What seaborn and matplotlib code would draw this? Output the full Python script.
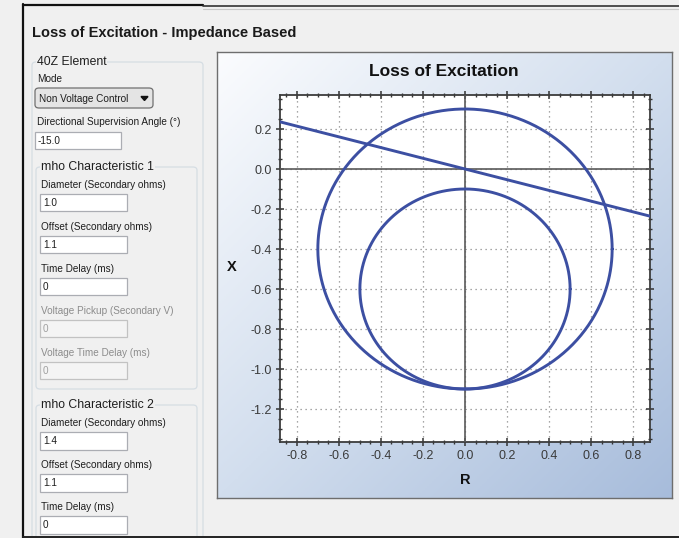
"""
Loss of Excitation - impedance based (40Z) settings screen
Redraws the mho characteristic plot together with the settings panel
"""

import numpy as np
import pandas as pd
import matplotlib
matplotlib.use("Agg")
import matplotlib.pyplot as plt
from matplotlib.patches import Rectangle, FancyBboxPatch, Polygon
from matplotlib.lines import Line2D
from matplotlib.colors import LinearSegmentedColormap
import seaborn as sns

# settings
MODE = "Non Voltage Control"
DIR_ANGLE = -15.0
MHO_NAMES = ["mho Characteristic 1", "mho Characteristic 2"]
MHO_DIAMETER = [1.0, 1.4]
MHO_OFFSET = [1.1, 1.1]
MHO_DELAY = [0, 0]
VOLT_PICKUP = 0
VOLT_DELAY = 0

# plot scales
R_LIM = (-0.88, 0.88)
X_LIM = (-1.365, 0.37)
R_TICKS = [-0.8, -0.6, -0.4, -0.2, 0.0, 0.2, 0.4, 0.6, 0.8]
X_TICKS = [0.2, 0.0, -0.2, -0.4, -0.6, -0.8, -1.0, -1.2]

LINE_COLOR = "#3c4fa2"
W, H = 679, 538

sns.set_style("ticks")
plt.rcParams["font.family"] = ["Liberation Sans", "DejaVu Sans"]
plt.rcParams["axes.grid"] = False
SMALL = 7.2

fig = plt.figure(figsize=(W / 100, H / 100), dpi=100)
fig.patch.set_facecolor("#f0f0f0")


def fx(x):
    return x / W


def fy(y):
    return 1 - y / H


def rect(x0, y0, x1, y1, rounded=False, **kw):
    # pixel coords, y measured from the top of the image
    if rounded:
        p = FancyBboxPatch((fx(x0), fy(y1)), (x1 - x0) / W, (y1 - y0) / H,
                           boxstyle="round,pad=0,rounding_size=0.006",
                           transform=fig.transFigure, **kw)
    else:
        p = Rectangle((fx(x0), fy(y1)), (x1 - x0) / W, (y1 - y0) / H,
                      transform=fig.transFigure, **kw)
    fig.patches.append(p)


def hline(x0, x1, y, **kw):
    fig.add_artist(Line2D([fx(x0), fx(x1)], [fy(y), fy(y)], transform=fig.transFigure, **kw))


def vline(x, y0, y1, **kw):
    fig.add_artist(Line2D([fx(x), fx(x)], [fy(y0), fy(y1)], transform=fig.transFigure, **kw))


def label(x, y, s, size=SMALL, color="#1e1e1e", **kw):
    fig.text(fx(x), fy(y), s, ha="left", va="center", fontsize=size, color=color, **kw)


def edit(x0, y0, x1, y1, s, enabled=True):
    face = "white" if enabled else "#f4f4f4"
    edge = "#abadb3" if enabled else "#c2c2c2"
    rect(x0, y0, x1, y1, facecolor=face, edgecolor=edge, lw=0.9, zorder=2)
    label(x0 + 3, (y0 + y1) / 2 + 0.5, s, color="#1e1e1e" if enabled else "#a0a0a0")


def group(x0, y0, x1, y1, title):
    rect(x0, y0, x1, y1, rounded=True, facecolor="none", edgecolor="#d5dde3", lw=0.9, zorder=1)
    fig.text(fx(x0 + 5), fy(y0), title, ha="left", va="center", fontsize=8.8,
             color="#1e1e1e", zorder=3,
             bbox=dict(facecolor="#f0f0f0", edgecolor="none", pad=0.5))


# window frame
vline(23, 4, 538, color="#111111", lw=1.6)
hline(23, 203, 4.5, color="#111111", lw=1.6)
hline(203, 679, 6, color="#333333", lw=1.2)
hline(203, 679, 8.5, color="#c8c8c8", lw=0.8)
hline(23, 679, 537, color="#222222", lw=1.4)

fig.text(fx(32), fy(33.5), "Loss of Excitation - Impedance Based", ha="left", va="center",
         fontsize=10.5, fontweight="bold", color="#1a1a1a")

# 40Z element settings
group(32, 62, 203, 560, "40Z Element")
label(37, 79, "Mode")
rect(35, 88, 153, 108, rounded=True, facecolor="#e4e4e4", edgecolor="#707070", lw=0.9, zorder=2)
label(39, 98.5, MODE)
fig.patches.append(Polygon([[fx(141), fy(96.5)], [fx(148), fy(96.5)], [fx(144.5), fy(100.5)]],
                           closed=True, transform=fig.transFigure, color="#111111", zorder=3))
label(37, 122, "Directional Supervision Angle (°)")
edit(35, 132, 121, 149, f"{DIR_ANGLE:.1f}")

# mho characteristic settings
fields1 = [("Diameter (Secondary ohms)", f"{MHO_DIAMETER[0]:.1f}", True),
           ("Offset (Secondary ohms)", f"{MHO_OFFSET[0]:.1f}", True),
           ("Time Delay (ms)", f"{MHO_DELAY[0]}", True),
           ("Voltage Pickup (Secondary V)", f"{VOLT_PICKUP}", False),
           ("Voltage Time Delay (ms)", f"{VOLT_DELAY}", False)]
fields2 = [("Diameter (Secondary ohms)", f"{MHO_DIAMETER[1]:.1f}", True),
           ("Offset (Secondary ohms)", f"{MHO_OFFSET[1]:.1f}", True),
           ("Time Delay (ms)", f"{MHO_DELAY[1]}", True)]

group(36, 167, 197, 389, MHO_NAMES[0])
for i, (name, val, on) in enumerate(fields1):
    y = 185 + 42 * i
    label(41, y, name, color="#1e1e1e" if on else "#8c8c8c")
    edit(40, y + 8.5, 127, y + 26, val, enabled=on)

group(36, 405, 197, 560, MHO_NAMES[1])
for i, (name, val, on) in enumerate(fields2):
    y = 423 + 42 * i
    label(41, y, name)
    edit(40, y + 9, 127, y + 26.5, val)

# chart panel with gradient background
bg = fig.add_axes([fx(217), fy(498), (672 - 217) / W, (498 - 52) / H])
u = np.linspace(0, 1, 256)
grad = (u[None, :] + u[:, None]) / 2
cmap = LinearSegmentedColormap.from_list("panel", ["#fbfcfe", "#d2deee", "#a7bcdb"])
bg.imshow(grad, cmap=cmap, aspect="auto", extent=[0, 1, 0, 1])
bg.set_xticks([])
bg.set_yticks([])
for s in bg.spines.values():
    s.set_color("#6e6e6e")
    s.set_linewidth(1.0)

ax = fig.add_axes([fx(280), fy(442), (650 - 280) / W, (442 - 95) / H])
ax.set_facecolor("white")

# mho circles: reach from -offset up to diameter - offset
for dia, off in zip(MHO_DIAMETER, MHO_OFFSET):
    theta = np.linspace(0, 2 * np.pi, 721)
    circ = pd.DataFrame({"R": dia / 2 * np.cos(theta),
                         "X": dia / 2 - off + dia / 2 * np.sin(theta)})
    sns.lineplot(data=circ, x="R", y="X", sort=False, estimator=None,
                 color=LINE_COLOR, lw=2.1, ax=ax, zorder=4)

# directional supervision line through the origin
r_end = np.array([R_LIM[0] - 0.05, R_LIM[1] + 0.05])
dirline = pd.DataFrame({"R": r_end, "X": r_end * np.tan(np.radians(DIR_ANGLE))})
sns.lineplot(data=dirline, x="R", y="X", sort=False, estimator=None,
             color=LINE_COLOR, lw=2.1, ax=ax, zorder=4)

ax.axhline(0, color="#5a5a5a", lw=1.2, zorder=3)
ax.axvline(0, color="#5a5a5a", lw=1.2, zorder=3)

ax.set_xlim(*R_LIM)
ax.set_ylim(*X_LIM)
ax.set_xticks(R_TICKS)
ax.set_yticks(X_TICKS)
ax.set_xticklabels([f"{v:.1f}" for v in R_TICKS])
ax.set_yticklabels([f"{v:.1f}" for v in X_TICKS])
ax.set_xticks(np.arange(-0.85, 0.851, 0.05), minor=True)
ax.set_yticks(np.arange(-1.35, 0.351, 0.05), minor=True)
ax.xaxis.grid(True, which="major", color="#8a8a8a", linestyle=(0, (1, 3)), lw=0.9)
ax.yaxis.grid(True, which="major", color="#8a8a8a", linestyle=(0, (1, 3)), lw=0.9)
ax.set_axisbelow(True)
ax.set_xlabel("")
ax.set_ylabel("")

ax.tick_params(which="major", direction="inout", length=6, width=1.1, color="#333333",
               labelsize=9, labelcolor="#3a3a3a", pad=3, top=True, right=True)
ax.tick_params(which="minor", direction="inout", length=3.2, width=1.0, color="#333333",
               top=True, right=True)
for s in ax.spines.values():
    s.set_color("#3c3c3c")
    s.set_linewidth(1.3)

fig.text(fx(444), fy(72), "Loss of Excitation", ha="center", va="center",
         fontsize=12.5, fontweight="bold", color="#111111")
fig.text(fx(465), fy(480), "R", ha="center", va="center",
         fontsize=10.5, fontweight="bold", color="#111111")
fig.text(fx(232), fy(267), "X", ha="center", va="center",
         fontsize=10.5, fontweight="bold", color="#111111")

fig.savefig("out.png", dpi=100, facecolor=fig.get_facecolor())
